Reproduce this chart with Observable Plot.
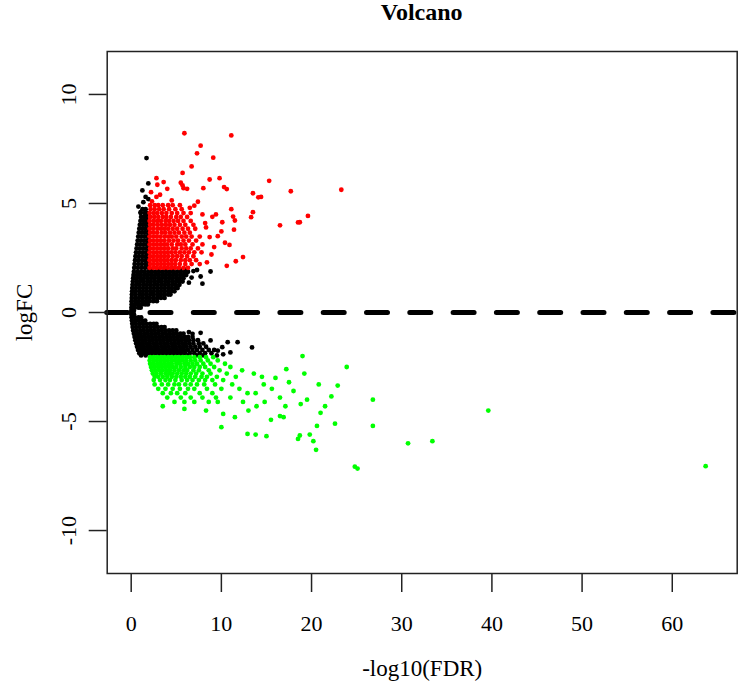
<!DOCTYPE html>
<html>
<head>
<meta charset="utf-8">
<script src="https://cdn.jsdelivr.net/npm/d3@7"></script>
<script src="https://cdn.jsdelivr.net/npm/@observablehq/plot@0.6"></script>
<style>
  html, body { margin: 0; padding: 0; background: #fff; }
  #wrap { width: 742px; height: 684px; position: relative; }
  #title { position: relative; height: 40px; }
  #title span { position: absolute; left: 421.7px; top: 0; transform: translateX(-50%);
    font: bold 24px "Liberation Serif", "DejaVu Serif", serif; line-height: 24px; color: #000; white-space: nowrap; }
</style>
</head>
<body>
<div id="wrap">
  <div id="title"><span>Volcano</span></div>
  <div id="chart"></div>
</div>
<script>
const titleText = "Volcano";
const xLabel = "-log10(FDR)";
const yLabel = "logFC";
const xTicks = [0, 10, 20, 30, 40, 50, 60];
const yTicks = [-10, -5, 0, 5, 10];
const cutoffLine = [0];

// Non-significant genes (black), rows read as [logFC, [-log10(FDR) values]]
const blackUpperRows = [
  [0.08, [0.02, 0.3]],
  [0.22, [0.03, 0.4, 0.8, 1.05]],
  [0.37, [0.05, 0.42, 0.8, 1.2, 1.55, 1.85]],
  [0.52, [0.05, 0.45, 0.85, 1.25, 1.65, 2.05, 2.45, 2.85]],
  [0.67, [0.07, 0.47, 0.87, 1.27, 1.67, 2.07, 2.5, 2.9, 3.3, 3.7]],
  [0.82, [0.08, 0.48, 0.9, 1.3, 1.7, 2.1, 2.5, 2.9, 3.3, 3.7, 4.1, 4.35]],
  [0.97, [0.1, 0.5, 0.9, 1.3, 1.7, 2.1, 2.5, 2.9, 3.3, 3.7, 4.1, 4.5, 4.8]],
  [1.12, [0.12, 0.52, 0.92, 1.32, 1.72, 2.12, 2.52, 2.92, 3.32, 3.72, 4.12, 4.5, 4.9, 5.15]],
  [1.27, [0.15, 0.55, 0.95, 1.35, 1.75, 2.15, 2.55, 2.95, 3.35, 3.75, 4.15, 4.55, 4.95, 5.35]],
  [1.42, [0.18, 0.58, 0.98, 1.38, 1.78, 2.18, 2.58, 2.98, 3.38, 3.78, 4.18, 4.58, 4.98, 5.4, 5.7]],
  [1.57, [0.22, 0.62, 1.0, 1.4, 1.8, 2.2, 2.6, 3.0, 3.4, 3.8, 4.2, 4.6, 5.0, 5.4, 5.8]],
  [1.72, [0.26, 0.66, 1.05, 1.45, 1.85, 2.25, 2.65, 3.05, 3.45, 3.85, 4.25, 4.65, 5.05, 5.45, 5.85, 6.1]],
  [1.87, [0.3, 0.7, 1.1, 1.5, 1.9, 2.3, 2.7, 3.1, 3.5, 3.9, 4.3, 4.7, 5.1, 5.5, 5.9, 6.3]],
  [1.96, [2.2, 3.0, 3.8, 4.6, 5.4, 6.0]],
  [2.05, [0.34, 0.74, 1.14, 1.54, 1.94]],
  [2.22, [0.38, 0.78, 1.18, 1.58, 1.94]],
  [2.4, [0.43, 0.82, 1.22, 1.6, 1.95]],
  [2.58, [0.48, 0.86, 1.25, 1.62, 1.95]],
  [2.76, [0.54, 0.92, 1.3, 1.65, 1.95]],
  [2.94, [0.6, 0.97, 1.34, 1.68, 1.95]],
  [3.12, [0.66, 1.02, 1.38, 1.7, 1.95]],
  [3.3, [0.72, 1.07, 1.42, 1.72, 1.96]],
  [3.48, [0.78, 1.12, 1.46, 1.76, 1.96]],
  [3.66, [0.84, 1.18, 1.5, 1.8]],
  [3.84, [0.9, 1.24, 1.55, 1.85]],
  [4.02, [0.96, 1.3, 1.6, 1.9]],
  [4.2, [1.03, 1.36, 1.66, 1.92]],
  [4.38, [1.1, 1.42, 1.72]],
  [4.56, [1.05, 1.48, 1.78]],
  [4.74, [1.25, 1.6]]
];
const blackLowerRows = [
  [-0.08, [0.02, 0.3]],
  [-0.22, [0.04, 0.42, 0.8, 1.1]],
  [-0.37, [0.08, 0.46, 0.85, 1.25, 1.55]],
  [-0.52, [0.12, 0.5, 0.9, 1.3, 1.7, 2.1, 2.5, 2.8]],
  [-0.67, [0.16, 0.55, 0.95, 1.35, 1.75, 2.15, 2.55, 2.95, 3.35, 3.7]],
  [-0.82, [0.22, 0.6, 1.0, 1.4, 1.8, 2.2, 2.6, 3.0, 3.4, 3.8, 4.2, 4.6, 5.0]],
  [-0.97, [0.3, 0.68, 1.06, 1.45, 1.85, 2.25, 2.65, 3.05, 3.45, 3.85, 4.25, 4.65, 5.05, 5.45, 5.8]],
  [-1.12, [0.38, 0.76, 1.14, 1.52, 1.9, 2.3, 2.7, 3.1, 3.5, 3.9, 4.3, 4.7, 5.1, 5.5, 5.9, 6.3, 6.8]],
  [-1.27, [0.46, 0.84, 1.22, 1.6, 2.0, 2.4, 2.8, 3.2, 3.6, 4.0, 4.4, 4.8, 5.2, 5.6, 6.0, 6.4, 6.9, 7.4]],
  [-1.42, [0.55, 0.93, 1.3, 1.68, 2.06, 2.45, 2.85, 3.25, 3.65, 4.05, 4.45, 4.85, 5.25, 5.65, 6.05, 6.45, 6.9, 7.5, 8.0]],
  [-1.57, [0.65, 1.02, 1.4, 1.78, 2.16, 2.55, 2.95, 3.35, 3.75, 4.15, 4.55, 4.95, 5.35, 5.75, 6.15, 6.6, 7.1, 7.6, 8.3]],
  [-1.72, [0.76, 1.12, 1.5, 1.88, 2.26, 2.65, 3.05, 3.45, 3.85, 4.25, 4.65, 5.05, 5.45, 5.85, 6.3, 6.8, 7.3, 7.9, 8.6, 9.2]],
  [-1.87, [0.9, 1.25, 1.62, 2.0, 2.4, 2.8, 3.2, 3.6, 4.0, 4.4, 4.8, 5.2, 5.6, 6.0, 6.5, 7.0, 7.6, 8.2, 8.9]],
  [-1.97, [1.1, 1.6, 2.4, 3.2, 4.0, 4.8, 5.6, 6.4, 7.2, 8.0, 9.5]]
];
const blackScatter = [
  [1.7, 7.08], [1.9, 5.92], [1.24, 5.6], [1.35, 5.06], [0.8, 4.86], [1.05, 4.6], [1.6, 5.3], [1.9, 5.2],
  [7.7, 1.65], [8.8, 1.88], [7.9, 1.32], [6.4, 1.37], [6.9, 1.9], [7.3, 1.95], [6.7, 1.6],
  [6.4, -0.9], [6.8, -0.98], [7.7, -0.93], [8.8, -1.28], [10.7, -1.36], [11.8, -1.36], [13.4, -1.6],
  [11.0, -1.83], [10.1, -1.59], [9.6, -1.75], [10.2, -1.92]
];

// Up-regulated genes (red)
const redRows = [
  [2.05, [2.05, 2.45, 2.85, 3.25, 3.65, 4.05, 4.45, 4.85, 5.3, 5.8, 6.3]],
  [2.22, [2.1, 2.5, 2.9, 3.3, 3.7, 4.1, 4.5, 4.9, 5.4, 6.0, 6.7, 7.6]],
  [2.4, [2.05, 2.45, 2.85, 3.25, 3.65, 4.05, 4.5, 4.95, 5.5, 6.0, 6.5, 7.2]],
  [2.58, [2.1, 2.5, 2.9, 3.3, 3.7, 4.1, 4.6, 5.1, 5.6, 6.2, 6.9]],
  [2.76, [2.05, 2.45, 2.85, 3.25, 3.65, 4.05, 4.45, 4.9, 5.4, 5.9, 6.4, 7.0, 7.8]],
  [2.94, [2.1, 2.5, 2.9, 3.3, 3.7, 4.1, 4.6, 5.0, 5.6, 6.1, 6.6, 7.4]],
  [3.12, [2.05, 2.45, 2.85, 3.25, 3.65, 4.0, 4.5, 5.1, 5.5, 6.0, 6.8, 7.9]],
  [3.3, [2.1, 2.5, 2.9, 3.3, 3.7, 4.2, 4.7, 5.2, 5.8, 6.4, 7.2]],
  [3.48, [2.05, 2.45, 2.85, 3.25, 3.7, 4.1, 4.5, 5.0, 5.6, 6.1, 6.7, 7.6]],
  [3.66, [2.1, 2.5, 2.9, 3.4, 3.8, 4.3, 4.8, 5.3, 5.9, 6.5]],
  [3.84, [2.05, 2.45, 2.9, 3.3, 3.7, 4.1, 4.6, 5.1, 5.7, 6.3, 7.1]],
  [4.02, [2.1, 2.5, 2.95, 3.4, 3.85, 4.3, 4.8, 5.4, 6.0, 6.9]],
  [4.2, [2.05, 2.5, 2.9, 3.3, 3.8, 4.2, 4.7, 5.2, 5.8, 6.6]],
  [4.38, [2.1, 2.55, 3.0, 3.5, 3.9, 4.4, 5.0, 5.5, 6.2]],
  [4.56, [2.05, 2.5, 2.9, 3.4, 3.9, 4.5, 5.1, 5.8, 6.6]],
  [4.74, [2.15, 2.6, 3.1, 3.6, 4.2, 4.9, 5.6]],
  [4.92, [2.1, 2.6, 3.0, 3.5, 4.1, 4.6, 5.4]]
];
const redScatter = [
  [2.3, 5.1], [2.8, 5.3], [3.2, 5.4], [2.2, 5.52], [4.0, 5.67], [3.6, 5.98], [2.9, 5.86], [2.8, 6.16],
  [5.7, 5.83], [5.5, 5.95], [5.8, 5.7], [6.2, 5.67], [4.5, 5.14], [7.4, 5.08], [6.5, 4.8], [8.0, 5.7],
  [5.7, 6.4], [6.7, 6.7], [7.3, 7.3], [7.7, 7.65], [9.1, 7.1], [8.7, 6.1], [9.8, 6.16], [10.3, 5.75],
  [10.6, 5.66], [11.1, 4.74], [9.0, 4.39], [9.4, 4.5], [10.1, 4.14], [11.5, 4.22], [11.3, 4.4],
  [13.5, 4.6], [13.3, 4.37], [16.5, 4.0], [18.7, 4.14], [11.4, 3.8], [10.0, 3.72], [8.7, 3.46],
  [10.4, 3.2], [10.9, 3.1], [8.9, 2.66], [12.4, 2.54], [11.6, 2.35], [10.6, 2.14], [5.9, 8.22],
  [11.1, 8.12], [15.3, 6.04], [17.7, 5.56], [23.3, 5.63], [13.5, 5.47], [14.1, 5.28], [18.5, 4.13],
  [19.6, 4.43], [14.4, 5.3], [8.3, 3.9], [9.2, 3.0], [8.4, 2.3], [7.9, 4.5], [7.0, 4.9], [8.2, 4.1], [9.6, 3.5]
];

// Down-regulated genes (green)
const greenRows = [
  [-2.05, [2.1, 2.5, 2.9, 3.3, 3.7, 4.1, 4.5, 4.9, 5.3, 5.7, 6.1, 6.5, 7.0, 7.6, 8.3, 9.1]],
  [-2.2, [2.05, 2.45, 2.85, 3.25, 3.65, 4.05, 4.45, 4.85, 5.3, 5.7, 6.1, 6.6, 7.1, 7.7, 8.5, 9.6]],
  [-2.35, [2.1, 2.5, 2.9, 3.3, 3.7, 4.1, 4.5, 5.0, 5.4, 5.9, 6.3, 6.8, 7.3, 8.0, 8.8, 10.4]],
  [-2.5, [2.2, 2.6, 3.0, 3.4, 3.8, 4.2, 4.6, 5.0, 5.5, 6.0, 6.5, 7.0, 7.6, 8.2, 9.2, 11.0]],
  [-2.65, [2.3, 2.7, 3.1, 3.5, 3.9, 4.3, 4.8, 5.3, 5.8, 6.2, 6.9, 7.5, 8.6, 9.8, 12.3]],
  [-2.8, [2.4, 2.8, 3.3, 3.8, 4.2, 4.6, 5.1, 5.6, 6.1, 6.6, 7.2, 7.9, 8.8, 10.6, 13.6]],
  [-2.95, [2.6, 3.0, 3.5, 4.0, 4.5, 5.0, 5.5, 6.0, 6.5, 7.1, 7.8, 8.4, 9.5, 11.6, 14.5]],
  [-3.1, [2.5, 3.2, 3.8, 4.3, 4.9, 5.6, 6.2, 6.8, 7.5, 8.2, 9.0, 10.2]],
  [-3.3, [2.6, 3.4, 4.1, 4.8, 5.3, 6.0, 6.6, 7.3, 8.1, 9.3, 11.2, 14.7]],
  [-3.5, [3.0, 3.8, 4.6, 5.4, 6.3, 7.0, 8.4, 10.0, 12.0, 15.6]],
  [-3.7, [3.5, 4.4, 5.1, 6.0, 7.6, 9.0, 12.9, 13.8]],
  [-3.9, [4.0, 5.5, 6.6, 7.9, 9.4, 11.0, 16.5]],
  [-4.1, [4.8, 5.9, 7.0, 8.6, 9.6, 12.4, 14.8]]
];
const greenScatter = [
  [5.9, -4.42], [10.0, -5.26], [12.9, -5.57], [15.0, -5.67], [10.2, -4.65], [13.9, -4.3], [15.5, -4.92],
  [16.5, -4.75], [18.7, -5.64], [17.1, -4.3], [8.3, -4.5], [11.5, -4.8], [13.0, -4.5], [3.5, -4.3],
  [19.0, -2.0], [18.8, -4.2], [20.8, -3.3], [22.9, -3.35], [23.9, -2.5], [22.2, -3.85], [21.0, -4.6],
  [20.6, -5.2], [19.8, -5.6], [20.2, -5.9], [20.5, -6.3], [18.5, -5.8], [16.9, -4.8], [13.8, -5.6],
  [22.6, -5.1], [24.8, -7.07], [25.1, -7.16], [26.8, -4.0], [26.8, -5.2], [30.7, -6.0], [33.4, -5.9],
  [39.6, -4.5], [63.7, -7.05], [17.5, -3.2], [18.0, -3.6], [19.5, -4.0], [21.5, -4.3], [17.2, -2.6],
  [16.0, -3.0], [19.2, -2.8]
];

const fromRows = rows => rows.flatMap(([y, xs]) => xs.map(x => ({x, y})));
const fromPairs = pairs => pairs.map(([x, y]) => ({x, y}));
const black = [...fromRows(blackUpperRows), ...fromRows(blackLowerRows), ...fromPairs(blackScatter)];
const red = [...fromRows(redRows), ...fromPairs(redScatter)];
const green = [...fromRows(greenRows), ...fromPairs(greenScatter)];

const font = '"Liberation Serif", "DejaVu Serif", serif';
const ink = "#222";

const chart = Plot.plot({
  width: 742,
  height: 644,
  marginLeft: 106.7,
  marginRight: 5.3,
  marginTop: 11,
  marginBottom: 111,
  style: {fontFamily: font, background: "#fff", overflow: "visible"},
  x: {domain: [-2.66, 67.2]},
  y: {domain: [-11.97, 11.97]},
  marks: [
    Plot.dot(black, {x: "x", y: "y", r: 2.4, fill: "#000", stroke: null}),
    Plot.dot(red, {x: "x", y: "y", r: 2.4, fill: "#ff0000", stroke: null}),
    Plot.dot(green, {x: "x", y: "y", r: 2.4, fill: "#00ff00", stroke: null}),
    Plot.ruleY(cutoffLine, {stroke: "#000", strokeWidth: 5, strokeDasharray: "21,22.3", strokeLinecap: "round"}),
    Plot.frame({stroke: ink, strokeWidth: 1.5}),
    Plot.axisX({ticks: xTicks, tickSize: 19, tickFormat: () => "", stroke: ink, strokeWidth: 1.5, label: null}),
    Plot.axisY({ticks: yTicks, tickSize: 18, tickFormat: () => "", stroke: ink, strokeWidth: 1.5, label: null}),
    Plot.text(xTicks, {x: d => d, frameAnchor: "bottom", dy: 50, text: d => String(d), fontSize: 22, lineAnchor: "middle", fill: "#000"}),
    Plot.text(yTicks, {y: d => d, frameAnchor: "left", dx: -38, rotate: -90, text: d => String(d), fontSize: 22, lineAnchor: "middle", textAnchor: "middle", fill: "#000"}),
    Plot.text([xLabel], {frameAnchor: "bottom", dy: 95, text: d => d, fontSize: 23, lineAnchor: "middle", fill: "#000"}),
    Plot.text([yLabel], {frameAnchor: "left", dx: -83, rotate: -90, text: d => d, fontSize: 23, lineAnchor: "middle", textAnchor: "middle", fill: "#000"})
  ]
});
document.getElementById("chart").appendChild(chart);
document.querySelector("#title span").textContent = titleText;
</script>
</body>
</html>
